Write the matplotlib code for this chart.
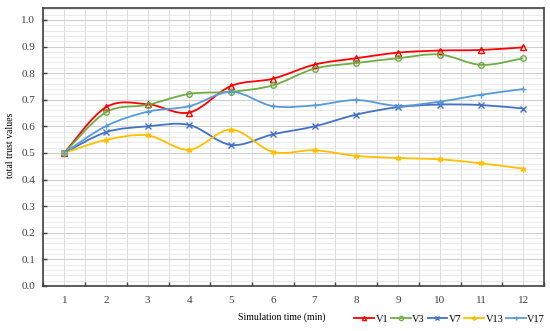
import numpy as np
import matplotlib
matplotlib.use("Agg")
import matplotlib.pyplot as plt
from matplotlib.path import Path
from matplotlib.patches import PathPatch
from matplotlib.ticker import MultipleLocator

plt.rcParams['font.family'] = ['Liberation Serif', 'DejaVu Serif']

times = list(range(1, 13))
v1 = [0.500, 0.672, 0.683, 0.652, 0.752, 0.779, 0.832, 0.856, 0.877, 0.885, 0.887, 0.897]
v3 = [0.500, 0.653, 0.681, 0.722, 0.730, 0.754, 0.817, 0.838, 0.856, 0.870, 0.831, 0.856]
v7 = [0.500, 0.578, 0.600, 0.605, 0.530, 0.570, 0.600, 0.644, 0.672, 0.682, 0.680, 0.667]
v13 = [0.500, 0.549, 0.566, 0.512, 0.588, 0.504, 0.510, 0.489, 0.481, 0.476, 0.461, 0.441]
v17 = [0.500, 0.601, 0.655, 0.676, 0.730, 0.676, 0.679, 0.699, 0.677, 0.693, 0.719, 0.740]

series = [
    ("V1", v1, "#FF0000", "^"),
    ("V3", v3, "#70AD47", "o"),
    ("V7", v7, "#4472C4", "x"),
    ("V13", v13, "#FFC000", (6, 2, 0)),
    ("V17", v17, "#5B9BD5", "+"),
]


def smooth_path(x, y, t=1 / 6):
    # Excel-like smoothed line: cubic bezier through every point
    x = np.asarray(x, float)
    y = np.asarray(y, float)
    verts = [(x[0], y[0])]
    codes = [Path.MOVETO]
    n = len(x)
    for i in range(n - 1):
        p0 = (x[max(i - 1, 0)], y[max(i - 1, 0)])
        p1 = (x[i], y[i])
        p2 = (x[i + 1], y[i + 1])
        p3 = (x[min(i + 2, n - 1)], y[min(i + 2, n - 1)])
        c1 = (p1[0] + (p2[0] - p0[0]) * t, p1[1] + (p2[1] - p0[1]) * t)
        c2 = (p2[0] - (p3[0] - p1[0]) * t, p2[1] - (p3[1] - p1[1]) * t)
        verts += [c1, c2, p2]
        codes += [Path.CURVE4] * 3
    return Path(verts, codes)


fig = plt.figure(figsize=(5.5, 3.31), dpi=100)
ax = fig.add_axes([0.079, 0.136, 0.91, 0.84])

for name, vals, color, marker in series:
    ax.add_patch(PathPatch(smooth_path(times, vals), fill=False, edgecolor=color, lw=1.3, zorder=3))
    mfc = "none" if marker in ("^", "o") else color
    ax.plot(times, vals, linestyle="none", marker=marker, markersize=4, color=color,
            markerfacecolor=mfc, markeredgewidth=1.0, zorder=4)
    ax.plot([], [], color=color, lw=1.3, marker=marker, markersize=3,
            markerfacecolor=mfc, label=name)

ax.set_xlim(0.5, 12.5)
ax.set_ylim(0, 1.045)
ax.set_xticks(times)
ax.set_xticks(np.arange(0.5, 13, 1.0), minor=True)
ax.yaxis.set_minor_locator(MultipleLocator(0.02))
ax.set_yticks(np.arange(0, 1.01, 0.1))
ax.set_yticklabels([f"{v:.1f}" for v in np.arange(0, 1.01, 0.1)])

ax.grid(which="major", axis="y", color="#D0D0D0", lw=0.8)
ax.grid(which="minor", axis="y", color="#E6E6E6", lw=0.6)
ax.grid(which="both", axis="x", color="#DCDCDC", lw=0.7)
ax.set_axisbelow(True)

ax.tick_params(axis="x", which="major", length=0, labelsize=8, colors="#404040", pad=7)
ax.tick_params(axis="x", which="minor", direction="in", length=3, width=1, color="#404040")
ax.tick_params(axis="y", which="major", direction="in", length=3, width=1, labelsize=8,
               colors="#404040", pad=6)
ax.tick_params(axis="y", which="minor", length=0)

for s in ax.spines.values():
    s.set_color("#404040")
    s.set_linewidth(1.2)

fig.text(0.02, 0.56, "total trust values", fontsize=7, rotation=90, ha="center", va="center")
fig.text(0.513, 0.042, "Simulation time (min)", fontsize=7, ha="center", va="center")

ax.legend(loc="center right", bbox_to_anchor=(1.002, -0.12), ncol=5, frameon=False, fontsize=7.5,
          handlelength=1.9, columnspacing=0.25, handletextpad=0.15, borderaxespad=0,
          borderpad=0)

fig.savefig("out.png", dpi=100)
